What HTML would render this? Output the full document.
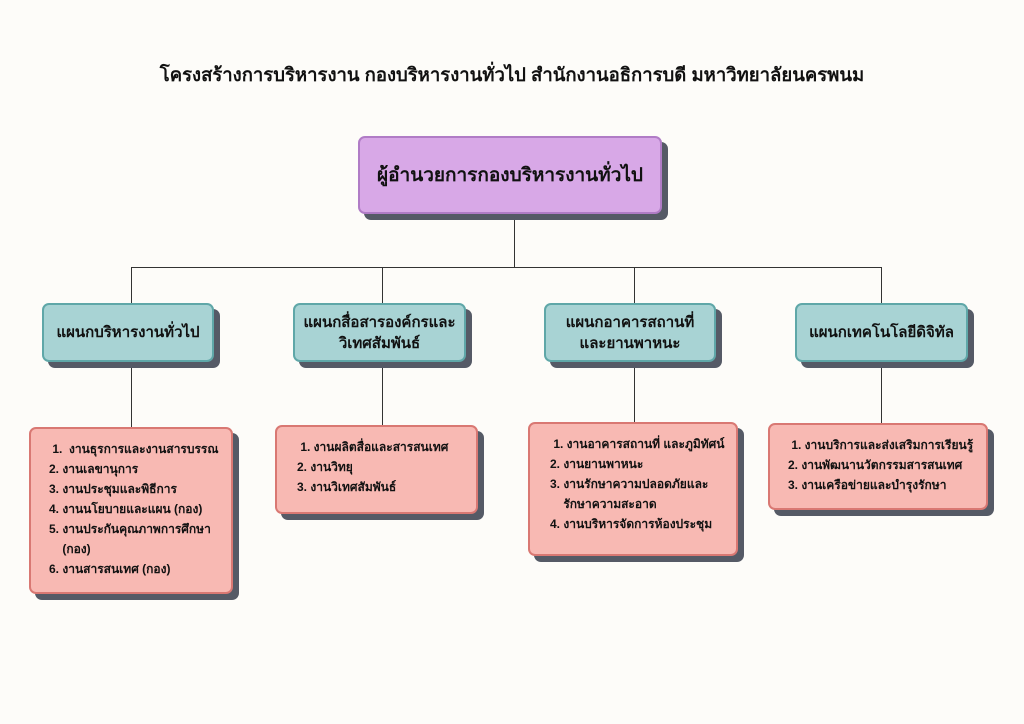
<!DOCTYPE html>
<html><head><meta charset="utf-8"><style>
body{margin:0;width:1024px;height:724px;background:#fdfcf9;position:relative;overflow:hidden;font-family:"Liberation Sans","DejaVu Sans",sans-serif;font-weight:bold;color:#111}
.b{position:absolute;box-sizing:border-box;border-radius:7px;box-shadow:6px 6px 0 #555a66}
.t{position:absolute;left:0;right:0;top:61px;text-align:center;font-size:18.5px}
.l{position:absolute;background:#333}
.p{background:#d8a8e7;border:2px solid #b07cc6;display:flex;align-items:center;justify-content:center;font-size:19px}
.c{background:#a8d3d4;border:2px solid #5fa7a8;display:flex;align-items:center;justify-content:center;text-align:center;font-size:15px;line-height:21px}
.r{background:#f8b9b3;border:2px solid #d97873;font-size:12px;line-height:20px;padding:10px 4px 0 18px;white-space:nowrap}
</style></head><body>
<div class="t">โครงสร้างการบริหารงาน กองบริหารงานทั่วไป สำนักงานอธิการบดี มหาวิทยาลัยนครพนม</div>
<div class="l" style="left:514px;top:214px;width:1px;height:53px"></div>
<div class="l" style="left:131px;top:267px;width:750px;height:1px"></div>
<div class="l" style="left:131px;top:267px;width:1px;height:160px"></div>
<div class="l" style="left:382px;top:267px;width:1px;height:158px"></div>
<div class="l" style="left:634px;top:267px;width:1px;height:155px"></div>
<div class="l" style="left:881px;top:267px;width:1px;height:156px"></div>
<div class="b p" style="left:358px;top:136px;width:304px;height:78px">ผู้อำนวยการกองบริหารงานทั่วไป</div>
<div class="b c" style="left:42px;top:303px;width:172px;height:59px">แผนกบริหารงานทั่วไป</div>
<div class="b c" style="left:293px;top:303px;width:173px;height:59px">แผนกสื่อสารองค์กรและ<br>วิเทศสัมพันธ์</div>
<div class="b c" style="left:544px;top:303px;width:172px;height:59px">แผนกอาคารสถานที่<br>และยานพาหนะ</div>
<div class="b c" style="left:795px;top:303px;width:173px;height:59px">แผนกเทคโนโลยีดิจิทัล</div>
<div class="b r" style="left:29px;top:427px;width:204px;height:167px;padding-left:18px">&nbsp;1.&nbsp; งานธุรการและงานสารบรรณ<br>2. งานเลขานุการ<br>3. งานประชุมและพิธีการ<br>4. งานนโยบายและแผน (กอง)<br>5. งานประกันคุณภาพการศึกษา<br>&nbsp;&nbsp;&nbsp; (กอง)<br>6. งานสารสนเทศ (กอง)</div>
<div class="b r" style="left:275px;top:425px;width:203px;height:89px;padding-left:20px">&nbsp;1. งานผลิตสื่อและสารสนเทศ<br>2. งานวิทยุ<br>3. งานวิเทศสัมพันธ์</div>
<div class="b r" style="left:528px;top:422px;width:210px;height:134px;padding-left:20px">&nbsp;1. งานอาคารสถานที่ และภูมิทัศน์<br>2. งานยานพาหนะ<br>3. งานรักษาความปลอดภัยและ<br>&nbsp;&nbsp;&nbsp; รักษาความสะอาด<br>4. งานบริหารจัดการห้องประชุม</div>
<div class="b r" style="left:768px;top:423px;width:220px;height:87px;padding-left:18px">&nbsp;1. งานบริการและส่งเสริมการเรียนรู้<br>2. งานพัฒนานวัตกรรมสารสนเทศ<br>3. งานเครือข่ายและบำรุงรักษา</div>
</body></html>
